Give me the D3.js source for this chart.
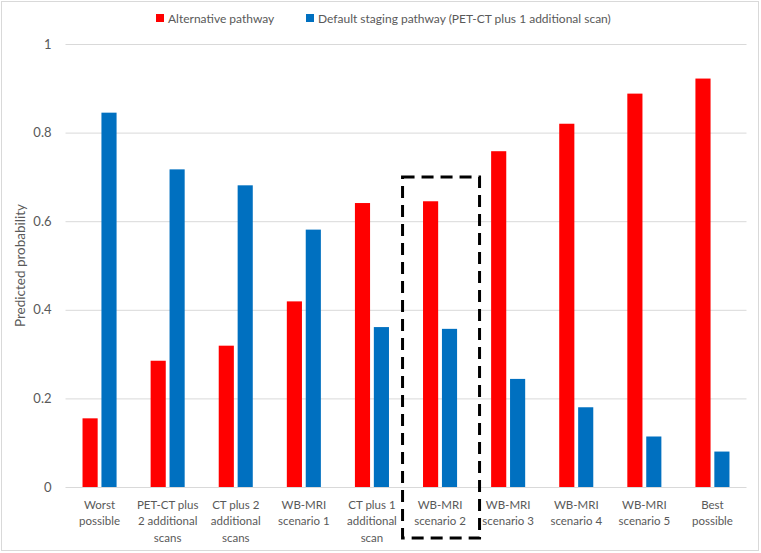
<!DOCTYPE html>
<html>
  <head>
    <meta charset="utf-8">
    <title>Predicted probability</title>
    <script src="https://cdn.jsdelivr.net/npm/d3@7"></script>
    <style>
      body { margin: 0; background: #fff; }
      text { font-family: Lato, "Open Sans", sans-serif; fill: #595959; }
    </style>
  </head>
  <body>
    <svg id="chart" width="761" height="553"></svg>
    <script>
      // categories (line breaks as in the picture)
      var categories = [
        "Worst\npossible",
        "PET-CT plus\n2 additional\nscans",
        "CT plus 2\nadditional\nscans",
        "WB-MRI\nscenario 1",
        "CT plus 1\nadditional\nscan",
        "WB-MRI\nscenario 2",
        "WB-MRI\nscenario 3",
        "WB-MRI\nscenario 4",
        "WB-MRI\nscenario 5",
        "Best\npossible"
      ];
      var seriesNames = ["Alternative pathway", "Default staging pathway (PET-CT plus 1 additional scan)"];
      var alternative = [0.155, 0.285, 0.319, 0.419, 0.641, 0.645, 0.758, 0.820, 0.888, 0.922];
      var defaultPath = [0.845, 0.717, 0.681, 0.581, 0.361, 0.357, 0.244, 0.180, 0.114, 0.080];
      var yTicks = [0, 0.2, 0.4, 0.6, 0.8, 1];
      var highlighted = "WB-MRI\nscenario 2";
      var highlightTop = 0.7;

      var colors = ["#ff0000", "#0070c0"];

      var svg = d3.select("#chart");

      // outer frame
      svg.append("rect")
        .attr("x", 1.5).attr("y", 1.5)
        .attr("width", 757).attr("height", 549)
        .attr("fill", "none").attr("stroke", "#d9d9d9");

      var plotL = 65.5, plotR = 746.5, plotT = 44, plotB = 487;

      var y = d3.scaleLinear().domain([0, 1]).range([plotB, plotT]);
      var x0 = d3.scaleBand().domain(categories).range([plotL, plotR])
        .paddingInner(0.5).paddingOuter(0.25);
      var x1 = d3.scaleBand().domain(seriesNames).range([0, x0.bandwidth()])
        .paddingInner(0.2);

      // gridlines + y labels
      var yAxis = d3.axisLeft(y).tickValues(yTicks)
        .tickSize(-(plotR - plotL)).tickPadding(14)
        .tickFormat(function(d) { return d === 0 || d === 1 ? d : d3.format(".1f")(d); });
      var gy = svg.append("g").attr("transform", "translate(" + plotL + ",0)").call(yAxis);
      gy.select(".domain").remove();
      gy.selectAll(".tick line").attr("stroke", "#d9d9d9");
      gy.selectAll(".tick text").attr("font-size", 13).attr("fill", "#595959")
        .attr("font-family", "Lato, sans-serif");

      // y title
      svg.append("text")
        .attr("transform", "translate(25," + (plotT + plotB) / 2 + ") rotate(-90)")
        .attr("text-anchor", "middle")
        .attr("font-size", 13.5)
        .text("Predicted probability");

      // bars
      var rows = categories.map(function(c, i) {
        return { cat: c, vals: [alternative[i], defaultPath[i]] };
      });

      var groups = svg.append("g").selectAll("g")
        .data(rows).join("g")
        .attr("transform", function(d) { return "translate(" + x0(d.cat) + ",0)"; });

      groups.selectAll("rect")
        .data(function(d) { return d.vals.map(function(v, j) { return { s: seriesNames[j], v: v, j: j }; }); })
        .join("rect")
        .attr("x", function(d) { return x1(d.s); })
        .attr("y", function(d) { return y(d.v); })
        .attr("width", x1.bandwidth())
        .attr("height", function(d) { return plotB - y(d.v); })
        .attr("fill", function(d) { return colors[d.j]; });

      // x labels
      var xl = svg.append("g").selectAll("text")
        .data(categories).join("text")
        .attr("text-anchor", "middle")
        .attr("font-size", 11.5)
        .attr("x", function(d) { return x0(d) + x0.bandwidth() / 2; })
        .attr("y", 509);
      xl.selectAll("tspan")
        .data(function(d) { return d.split("\n"); })
        .join("tspan")
        .attr("x", function() { return this.parentNode.getAttribute("x"); })
        .attr("dy", function(d, i) { return i === 0 ? 0 : 16.3; })
        .text(function(d) { return d; });

      // dashed highlight box
      var hx = x0(highlighted) + x0.bandwidth() / 2;
      svg.append("rect")
        .attr("x", hx - 37.5).attr("y", y(highlightTop))
        .attr("width", 77).attr("height", 538 - y(highlightTop))
        .attr("fill", "none")
        .attr("stroke", "#000").attr("stroke-width", 3)
        .attr("stroke-dasharray", "12,7");

      // legend
      var legendPos = [156, 306];
      var lg = svg.append("g").selectAll("g")
        .data(seriesNames).join("g")
        .attr("transform", function(d, i) { return "translate(" + legendPos[i] + ",13)"; });
      lg.append("rect").attr("width", 8).attr("height", 8)
        .attr("y", 1)
        .attr("fill", function(d, i) { return colors[i]; });
      lg.append("text").attr("x", 12).attr("y", 9.5)
        .attr("font-size", 12)
        .text(function(d) { return d; });
    </script>
  </body>
</html>
